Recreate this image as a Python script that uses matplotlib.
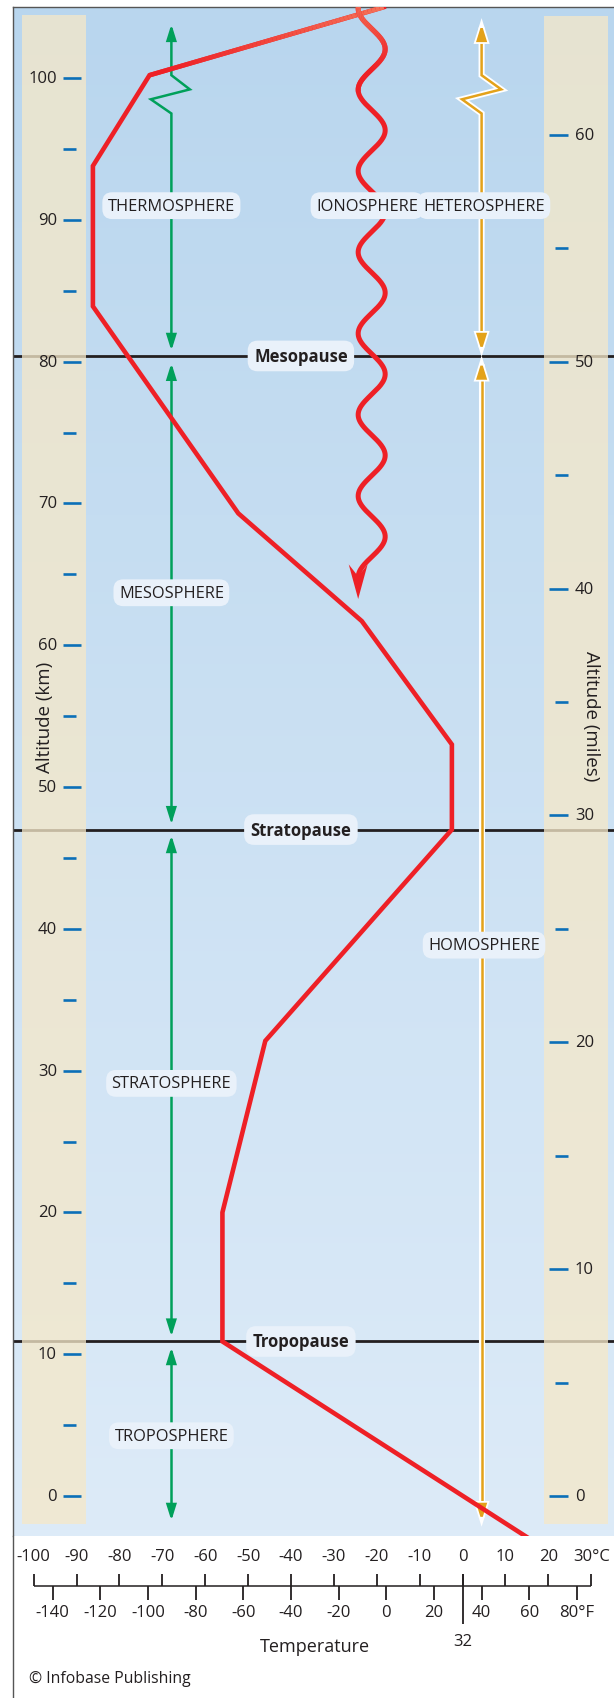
import numpy as np
import matplotlib.pyplot as plt
import matplotlib.patheffects as pe
from matplotlib.patches import FancyArrowPatch, Rectangle, Polygon
from matplotlib.path import Path
from matplotlib.collections import LineCollection
from matplotlib.colors import LinearSegmentedColormap

plt.rcParams['font.family'] = ['Open Sans', 'DejaVu Sans']

# temperature profile (deg C) against altitude (km)
temp_c = [15, -56, -56, -46, -2.5, -2.5, -23.5, -52.3, -86.2, -86.2, -73, -18.4]
alt_km = [-2.9, 10.9, 20, 32.1, 47, 53, 61.7, 69.3, 83.9, 93.8, 100.2, 105]

pause_names = ['Tropopause', 'Stratopause', 'Mesopause']
pause_km = [10.9, 47.0, 80.4]

layer_names = ['TROPOSPHERE', 'STRATOSPHERE', 'MESOSPHERE', 'THERMOSPHERE']
layer_km = [4.25, 29.1, 63.7, 91.0]
# arrow extents of each layer (bottom, top) in km
layer_span = [(-1.74, 10.49), (11.26, 46.6), (47.4, 79.9), (80.77, 103.8)]
homo_span = (-1.74, 79.99)
hetero_span = (80.77, 103.8)

km_ticks = np.arange(0, 101, 10)
km_minor = np.arange(5, 100, 10)
mile_ticks = np.arange(0, 61, 10)
mile_minor = np.arange(5, 56, 10)
KM_PER_MILE = 1.6

c_ticks = np.arange(-100, 31, 10)
f_ticks = np.arange(-140, 81, 20)

# ionosphere squiggle
iono_center = -21.2
iono_amp = 3.15
iono_period = 5.73
iono_crest = 102.04
iono_end = 64.785
iono_tip = 63.26

RED = '#EE2026'
GREEN = '#00A05A'
YELLOW = '#E3A21A'
BLUE_TICK = '#0B6FB8'
INK = '#231F20'
BOX = '#E9F1FA'

XMIN, XMAX = -104.83, 35.30
YMIN, YMAX = -2.82, 105.01

fig = plt.figure(figsize=(6.14, 16.99), dpi=100)
ax = fig.add_axes([13 / 614, 162 / 1699, 601 / 614, 1529 / 1699])
ax.set_xlim(XMIN, XMAX)
ax.set_ylim(YMIN, YMAX)
ax.set_xticks([])
ax.set_yticks([])
for s in ['right', 'bottom']:
    ax.spines[s].set_visible(False)
for s in ['top', 'left']:
    ax.spines[s].set_color('#555555')
    ax.spines[s].set_linewidth(1)

# sky gradient
bg = LinearSegmentedColormap.from_list('bg', ['#DDEBF8', '#B9D6EE'])
grad = np.linspace(0, 1, 256).reshape(-1, 1)
ax.imshow(grad, extent=[XMIN, XMAX, YMIN, YMAX], origin='lower', aspect='auto',
          cmap=bg, zorder=0)

# pause lines
for k in pause_km:
    ax.axhline(k, color=INK, lw=2, zorder=1)

# tan bands behind the scales
ax.add_patch(Rectangle((-102.8, -1.97), 15.0, 106.45, fc='#F5E8C9', ec='none',
                       alpha=0.77, zorder=2))
ax.add_patch(Rectangle((18.98, -1.97), 14.85, 106.35, fc='#F5E8C9', ec='none',
                       alpha=0.77, zorder=2))

# km scale
for k in km_ticks:
    ax.plot([-93.08, -88.88], [k, k], color=BLUE_TICK, lw=1.9,
            solid_capstyle='butt', zorder=4)
    ax.text(-94.6, k, str(k), ha='right', va='center', fontsize=12,
            color=INK, zorder=4)
for k in km_minor:
    ax.plot([-93.08, -90.24], [k, k], color=BLUE_TICK, lw=1.9,
            solid_capstyle='butt', zorder=4)

# miles scale
for m in mile_ticks:
    ax.plot([20.14, 24.5], [m * KM_PER_MILE] * 2, color=BLUE_TICK, lw=1.9,
            solid_capstyle='butt', zorder=4)
    ax.text(26.2, m * KM_PER_MILE, str(m), ha='left', va='center',
            fontsize=12, color=INK, zorder=4)
for m in mile_minor:
    ax.plot([21.6, 24.5], [m * KM_PER_MILE] * 2, color=BLUE_TICK, lw=1.9,
            solid_capstyle='butt', zorder=4)

ax.text(-97.3, 55.0, 'Altitude (km)', rotation=90, ha='center', va='center',
        fontsize=13.5, color=INK, zorder=4)
ax.text(30.0, 55.1, 'Altitude (miles)', rotation=270, ha='center',
        va='center', fontsize=13.5, color=INK, zorder=4)

# colour fade at the top of the red lines
fade = LinearSegmentedColormap.from_list('fade', [RED, '#F47258'])


def faded_top(xs, ys, lw):
    pts = np.column_stack([xs, ys])
    segs = np.stack([pts[:-1], pts[1:]], axis=1)
    mid = (ys[:-1] + ys[1:]) / 2
    cols = fade(np.clip((mid - 100.5) / 4.5, 0, 1))
    ax.add_collection(LineCollection(segs, colors=cols, linewidths=lw,
                                     capstyle='butt', zorder=5))


# temperature profile
ax.plot(temp_c, alt_km, color=RED, lw=3.3, solid_joinstyle='miter', zorder=5)
t = np.linspace(0, 1, 60)
faded_top(temp_c[-2] + t * (temp_c[-1] - temp_c[-2]),
          alt_km[-2] + t * (alt_km[-1] - alt_km[-2]), 3.3)

# ionosphere squiggle
wk = np.linspace(iono_end, YMAX, 700)
wt = iono_center + iono_amp * np.cos(2 * np.pi * (wk - iono_crest) / iono_period)
ax.plot(wt, wk, color=RED, lw=3.6, solid_capstyle='butt', zorder=5)
top = wk > 99
faded_top(wt[top], wk[top], 3.6)
tx = wt[0]
ax.add_patch(Polygon([(tx, iono_tip), (tx - 2.2, 65.7), (tx, 64.85),
                      (tx + 2.2, 65.7)], closed=True, fc=RED, ec='none',
                     zorder=5))

# layer arrows (green)
gx = -67.9
for (lo, hi), name in zip(layer_span, layer_names):
    if name == 'THERMOSPHERE':
        verts = [(gx, lo), (gx, 97.5), (-72.7, 98.5), (-63.6, 99.2),
                 (gx, 100.2), (gx, hi)]
    else:
        verts = [(gx, lo), (gx, hi)]
    ax.add_patch(FancyArrowPatch(path=Path(verts),
                                 arrowstyle='<|-|>,head_length=0.9,head_width=0.28',
                                 mutation_scale=10, color=GREEN, lw=1.8,
                                 joinstyle='miter', zorder=3))

# homosphere / heterosphere arrows (yellow, white outline)
yx = 4.43
outline = [pe.Stroke(linewidth=4.4, foreground='white'), pe.Normal()]
hverts = [(yx, hetero_span[0]), (yx, 97.5), (-0.14, 98.5), (9.0, 99.2),
          (yx, 100.2), (yx, hetero_span[1])]
for verts in [hverts, [(yx, homo_span[0]), (yx, homo_span[1])]]:
    ax.add_patch(FancyArrowPatch(path=Path(verts),
                                 arrowstyle='<|-|>,head_length=0.9,head_width=0.28',
                                 mutation_scale=10, color=YELLOW, lw=1.8,
                                 joinstyle='miter', path_effects=outline,
                                 zorder=3))

# labels
box = dict(boxstyle='round,pad=0.33,rounding_size=0.6', fc=BOX, ec='none')
for name, k in zip(layer_names, layer_km):
    ax.text(gx, k, name, ha='center', va='center', fontsize=11.8, color=INK,
            bbox=box, zorder=6)
ax.text(-22.3, 91.0, 'IONOSPHERE', ha='center', va='center', fontsize=11.8,
        color=INK, bbox=box, zorder=6)
ax.text(5.0, 91.0, 'HETEROSPHERE', ha='center', va='center', fontsize=11.8,
        color=INK, bbox=box, zorder=6)
ax.text(5.0, 38.85, 'HOMOSPHERE', ha='center', va='center', fontsize=11.8,
        color=INK, bbox=box, zorder=6)
pbox = dict(boxstyle='round,pad=0.38,rounding_size=0.6', fc=BOX, ec='none')
for name, k in zip(pause_names, pause_km):
    ax.text(-37.7, k, name, ha='center', va='center', fontsize=12,
            fontweight='bold', color=INK, bbox=pbox, zorder=6)

# temperature scale below the chart (y in pixel rows)
bx = fig.add_axes([13 / 614, 0, 601 / 614, 162 / 1699])
bx.set_xlim(XMIN, XMAX)
bx.set_ylim(1699, 1537)
bx.set_xticks([])
bx.set_yticks([])
for s in ['top', 'right', 'bottom']:
    bx.spines[s].set_visible(False)
bx.spines['left'].set_color('#555555')
bx.spines['left'].set_linewidth(1)

base = 1587.3
bx.plot([c_ticks[0], c_ticks[-1]], [base, base], color=INK, lw=1.1,
        solid_capstyle='butt')
for c in c_ticks:
    bx.plot([c, c], [base, 1575], color=INK, lw=1.3, solid_capstyle='butt')
    lab = f'{c}°C' if c == c_ticks[-1] else str(c)
    bx.text(c, 1557, lab, ha='center', va='center', fontsize=12, color=INK)
for f in f_ticks:
    c = (f - 32) * 5 / 9
    bx.plot([c, c], [base, 1600.7], color=INK, lw=1.3, solid_capstyle='butt')
    lab = f'{f}°F' if f == f_ticks[-1] else str(f)
    bx.text(c, 1613, lab, ha='center', va='center', fontsize=12, color=INK)
bx.plot([0, 0], [1575, 1625], color=INK, lw=1.3, solid_capstyle='butt')
bx.text(0, 1642, '32', ha='center', va='center', fontsize=12, color=INK)
bx.text(-34.4, 1647, 'Temperature', ha='center', va='center', fontsize=13,
        color=INK)
bx.text(-101.1, 1679, '© Infobase Publishing', ha='left', va='center',
        fontsize=11.3, color=INK)

fig.savefig('out.png', dpi=100)
